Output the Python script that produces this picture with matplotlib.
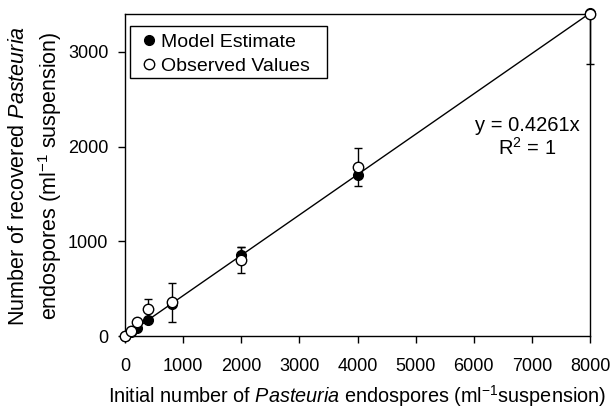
import matplotlib
matplotlib.use("Agg")
import matplotlib.pyplot as plt
from matplotlib.patches import Rectangle
import numpy as np

plt.rcParams['font.family'] = ['Liberation Sans', 'DejaVu Sans']
plt.rcParams['mathtext.fontset'] = 'custom'
plt.rcParams['mathtext.rm'] = 'Liberation Sans'
plt.rcParams['mathtext.it'] = 'Liberation Sans:italic'
plt.rcParams['mathtext.bf'] = 'Liberation Sans:bold'

# Data
initial = [0, 100, 200, 400, 800, 2000, 4000, 8000]
model_estimate = [0, 43, 85, 165, 340, 860, 1700, 3409]
observed = [0, 50, 148, 280, 355, 800, 1780, 3400]
obs_err_low = [0, 0, 0, 115, 205, 135, 200, 525]
obs_err_high = [0, 0, 0, 115, 205, 140, 200, 0]
model_err = [0, 0, 0, 0, 0, 80, 0, 0]
slope = 0.4261
x_ticks = [0, 1000, 2000, 3000, 4000, 5000, 6000, 7000, 8000]
y_ticks = [0, 1000, 2000, 3000]

W, H = 614, 411
fig = plt.figure(figsize=(W / 100, H / 100), dpi=100)
ax = fig.add_axes([125 / W, 1 - 336 / H, 465 / W, 322 / H])

fit_x = np.array([0, 8000])
ax.plot(fit_x, slope * fit_x, color='black', lw=1.0, zorder=2)

ax.errorbar(initial, observed, yerr=[obs_err_low, obs_err_high], fmt='none',
            ecolor='black', elinewidth=1.0, capsize=3, capthick=1.0, zorder=3,
            clip_on=False)
ax.errorbar(initial, model_estimate, yerr=model_err, fmt='none',
            ecolor='black', elinewidth=1.0, capsize=3, capthick=1.0, zorder=3)

ax.plot(initial, model_estimate, 'o', color='black', markersize=7,
        markeredgecolor='black', label='Model Estimate', zorder=4, clip_on=False)
ax.plot(initial, observed, 'o', markerfacecolor='white', markersize=7.5,
        markeredgecolor='black', markeredgewidth=1.0, label='Observed Values',
        zorder=5, clip_on=False)

ax.set_xlim(0, 8000)
ax.set_ylim(0, 3400)
ax.set_xticks(x_ticks)
ax.set_yticks(y_ticks)
ax.tick_params(direction='out', length=5, width=1, labelsize=13)
ax.tick_params(axis='x', pad=11)
ax.tick_params(axis='y', pad=7)
for s in ax.spines.values():
    s.set_linewidth(1.0)

ax.set_xlabel(r'Initial number of $\it{Pasteuria}$ endospores (ml$^{\mathregular{-1}}$suspension)',
              fontsize=14.3, labelpad=6)

yc = 1 - 176 / H
fig.text(19 / W, yc, r'Number of recovered $\it{Pasteuria}$', rotation=90,
         ha='center', va='center', fontsize=15.5)
fig.text(50 / W, yc, r'endospores (ml$^{\mathregular{-1}}$ suspension)', rotation=90,
         ha='center', va='center', fontsize=15.5)

ax.text(0.8645, 0.655, 'y = 0.4261x', transform=ax.transAxes, ha='center',
        va='center', fontsize=14.5)
ax.text(0.8645, 0.584, r'R$^{\mathregular{2}}$ = 1', transform=ax.transAxes, ha='center',
        va='center', fontsize=14.5)

leg = ax.legend(loc='upper left', bbox_to_anchor=(12 / 465, 1 - 19 / 322), frameon=False,
                fontsize=14, handletextpad=0.05, handlelength=1.2, borderpad=0.0,
                labelspacing=0.35, borderaxespad=0)
fig.patches.append(Rectangle((130 / W, 1 - 78 / H), 197 / W, 52 / H,
                             transform=fig.transFigure, fill=False,
                             edgecolor='black', linewidth=1.0, zorder=6))

fig.savefig('out.png', dpi=100)
